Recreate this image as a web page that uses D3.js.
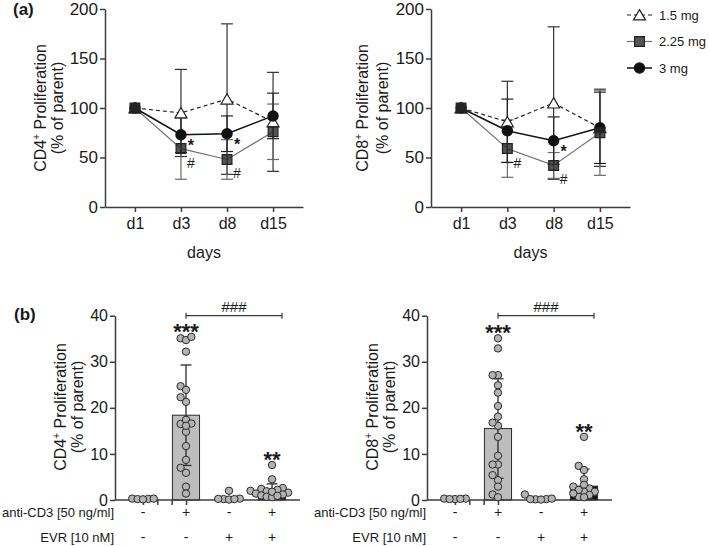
<!DOCTYPE html>
<html><head><meta charset="utf-8">
<script src="https://cdn.jsdelivr.net/npm/d3@7"></script>
<style>
body{margin:0;background:#fff}
svg{display:block}
text{font-family:"Liberation Sans",Arial,Helvetica,sans-serif;fill:#1a1a1a}
</style>
</head><body>
<svg id="c" width="709" height="546"></svg>
<script>
// ---------- DATA ----------
const days = ["d1","d3","d8","d15"];
const doses = ["1.5 mg","2.25 mg","3 mg"];
const yTicksTop = [0,50,100,150,200];
const yTicksBottom = [0,10,20,30,40];

// (a) CD4 – mean and SD per day
const cd4Mean15 = [100,95,109,86];
const cd4Sd15   = [0,44,76,50];
const cd4Mean225 = [100,59,48,76];
const cd4Sd225   = [0,31,20,28];
const cd4Mean3 = [100,73,74,92];
const cd4Sd3   = [0,18,18,23];
// (a) CD8
const cd8Mean15 = [100,86,105,80];
const cd8Sd15   = [0,41,77,39];
const cd8Mean225 = [100,59,42,75];
const cd8Sd225   = [0,29,13,43];
const cd8Mean3 = [100,77,67,80];
const cd8Sd3   = [0,32,24,36];
// significance marks: [day, symbol, dose index]
const cd4Marks = [["d3","*",2],["d3","#",1],["d8","*",2],["d8","#",1]];
const cd8Marks = [["d3","#",1],["d8","*",2],["d8","#",1]];

// (b) groups
const groups = ["ctrl","aCD3","EVR","aCD3+EVR"];
const antiCD3Signs = ["-","+","-","+"];
const evrSigns = ["-","-","+","+"];
const cd4BarMean = [0.2,18.4,0.2,1.8];
const cd4BarSd   = [0.1,10.9,0.4,1.7];
const cd8BarMean = [0.2,15.5,0.2,3.0];
const cd8BarSd   = [0.1,10.8,0.3,3.7];
const cd4Dots = [
  [0.3,0.2,0.25,0.15,0.3],
  [35.1,34.7,35.4,32.2,24.7,23.9,21.3,22.3,16.5,17.4,16.6,14.8,16.1,11.7,8.7,7.0,5.9,2.9,1.4],
  [2.0,0.3,0.2,0.1,0.25,0.2],
  [7.6,4.5,2.6,2.4,2.0,1.9,2.2,1.6,1.4,1.2,1.0,0.7,0.6,1.8,0.9]
];
const cd8Dots = [
  [0.3,0.2,0.3,0.2,0.25],
  [35.1,32.9,27.1,27.1,24.9,23.3,20.4,18.1,16.1,16.8,13.7,9.6,7.7,7.7,5.4,4.3,2.9,1.2,0.6],
  [1.2,0.2,0.15,0.1,0.3,0.2],
  [13.7,7.4,6.5,4.5,2.9,2.5,3.3,1.8,1.8,1.1,0.7,0.6,2.2,1.4]
];
const cd4Stars = [["aCD3","***"],["aCD3+EVR","**"]];
const cd8Stars = [["aCD3","***"],["aCD3+EVR","**"]];
const bracketText = "###";

// ---------- DRAWING ----------
const svg = d3.select("#c");
const AX = "#3c3c3c";

function styleAxis(g, fs){
  g.select(".domain").attr("stroke",AX).attr("stroke-width",1.5);
  g.selectAll(".tick line").attr("stroke",AX).attr("stroke-width",1.5);
  g.selectAll(".tick text").attr("fill","#1a1a1a").style("font-size",fs+"px")
    .style("font-family",'"Liberation Sans",Arial,sans-serif');
}

function yTitle(x1,x2,cy,main){
  const t = svg.append("text").attr("transform",`translate(${x1},${cy}) rotate(-90)`)
    .attr("text-anchor","middle").attr("dy","0.35em").style("font-size","16px");
  t.append("tspan").text(main);
  t.append("tspan").attr("dy",-6).style("font-size","10px").text("+");
  t.append("tspan").attr("dy",6).text(" Proliferation");
  svg.append("text").attr("transform",`translate(${x2},${cy}) rotate(-90)`)
    .attr("text-anchor","middle").attr("dy","0.35em").style("font-size","16px").text("(% of parent)");
}

const symTri = d3.symbol().type(d3.symbolTriangle).size(62);
const symSq = d3.symbol().type(d3.symbolSquare).size(95);
const symCirc = d3.symbol().type(d3.symbolCircle).size(82);
const seriesStyle = [
  {line:"#222", dash:"4,3", w:1.2, err:"#333", sym:symTri, fill:"#fff", stroke:"#222"},
  {line:"#707070", dash:null, w:1.2, err:"#6a6a6a", sym:symSq, fill:"rgba(40,40,40,0.8)", stroke:"#222"},
  {line:"#111", dash:null, w:1.5, err:"#222", sym:symCirc, fill:"#111", stroke:"#111"}
];

function linePanel(cfg){
  const x = d3.scalePoint().domain(days).range([cfg.x0,cfg.x1]).padding(0.65);
  const y = d3.scaleLinear().domain([0,200]).range([207,9]);
  const gy = svg.append("g").attr("transform",`translate(${cfg.x0},0)`)
    .call(d3.axisLeft(y).tickValues(yTicksTop).tickSize(5).tickSizeOuter(0).tickPadding(2));
  styleAxis(gy,17);
  const gx = svg.append("g").attr("transform","translate(0,207)")
    .call(d3.axisBottom(x).tickSize(5).tickSizeOuter(0).tickPadding(6));
  styleAxis(gx,16);
  svg.append("text").attr("x",(cfg.x0+cfg.x1)/2).attr("y",258).attr("text-anchor","middle")
    .style("font-size","16px").text("days");
  yTitle(cfg.t1,cfg.t2,108,cfg.title);

  const ser = cfg.series.map((s,k)=>({k, mean:s[0], sd:s[1], st:seriesStyle[k]}));
  // error bars
  ser.forEach(s=>{
    const pts = days.map((d,i)=>({d,m:s.mean[i],e:s.sd[i]})).filter(p=>p.e>0);
    const g = svg.append("g").attr("stroke",s.st.err).attr("stroke-width",1.2);
    g.selectAll(".v").data(pts).join("line").attr("x1",p=>x(p.d)).attr("x2",p=>x(p.d))
      .attr("y1",p=>y(p.m+p.e)).attr("y2",p=>y(p.m-p.e));
    g.selectAll(".t").data(pts).join("line").attr("x1",p=>x(p.d)-6).attr("x2",p=>x(p.d)+6)
      .attr("y1",p=>y(p.m+p.e)).attr("y2",p=>y(p.m+p.e));
    g.selectAll(".b").data(pts).join("line").attr("x1",p=>x(p.d)-6).attr("x2",p=>x(p.d)+6)
      .attr("y1",p=>y(p.m-p.e)).attr("y2",p=>y(p.m-p.e));
  });
  // lines
  const line = d3.line().x((v,i)=>x(days[i])).y(v=>y(v));
  ser.forEach(s=>{
    svg.append("path").attr("d",line(s.mean)).attr("fill","none").attr("stroke",s.st.line)
      .attr("stroke-width",s.st.w).attr("stroke-dasharray",s.st.dash);
  });
  // markers (order: 1.5, 3, 2.25)
  [0,2,1].forEach(k=>{
    const s = ser[k];
    svg.append("g").selectAll("path").data(s.mean).join("path")
      .attr("d",s.st.sym).attr("transform",(v,i)=>`translate(${x(days[i])},${y(v)+(k===0?1.5:0)})`)
      .attr("fill",s.st.fill).attr("stroke",s.st.stroke).attr("stroke-width",1.2);
  });
  // significance marks
  cfg.marks.forEach(([d,sym,k])=>{
    const yv = y(ser[k].mean[days.indexOf(d)]);
    svg.append("text").attr("x",x(d)+10).attr("y",sym==="*"?yv+16.5:yv+19)
      .attr("text-anchor","middle").style("font-size",sym==="*"?"16px":"14px")
      .style("font-weight",sym==="*"?"bold":"normal").text(sym);
  });
}

linePanel({x0:105,x1:303,t1:40,t2:57,title:"CD4",
  series:[[cd4Mean15,cd4Sd15],[cd4Mean225,cd4Sd225],[cd4Mean3,cd4Sd3]], marks:cd4Marks});
linePanel({x0:431,x1:630,t1:362,t2:382,title:"CD8",
  series:[[cd8Mean15,cd8Sd15],[cd8Mean225,cd8Sd225],[cd8Mean3,cd8Sd3]], marks:cd8Marks});

// legend
const legY = d3.scalePoint().domain(doses).range([15,68]);
doses.forEach((name,k)=>{
  const st = seriesStyle[k], yy = legY(name);
  svg.append("line").attr("x1",627).attr("x2",652).attr("y1",yy).attr("y2",yy)
    .attr("stroke",st.line).attr("stroke-width",st.w).attr("stroke-dasharray",st.dash);
  svg.append("path").attr("d",st.sym).attr("transform",`translate(639.5,${yy+(k===0?1.5:0)})`)
    .attr("fill",k===1?"#555":st.fill).attr("stroke",st.stroke).attr("stroke-width",1.2);
  svg.append("text").attr("x",659).attr("y",yy).attr("dy","0.35em").style("font-size","13px").text(name);
});

// panel labels
svg.append("text").attr("x",13).attr("y",15).style("font-size","17px").style("font-weight","bold").text("(a)");
svg.append("text").attr("x",14).attr("y",320).style("font-size","17px").style("font-weight","bold").text("(b)");

function swarm(vals, y, r){
  const placed = [], out = [];
  const order = vals.map((v,i)=>i).sort((a,b)=>vals[a]-vals[b]);
  const minD = 2*r*0.72, step = minD + 0.05;
  const cands = [0];
  for(let j=1;j<30;j++){cands.push(-j*step);cands.push(j*step);}
  order.forEach(i=>{
    const py = y(vals[i]);
    let off = 0;
    for(const c of cands){
      if(placed.every(p=>(p.x-c)**2+(p.y-py)**2 >= minD*minD)){off=c;break;}
    }
    placed.push({x:off,y:py});
    out[i] = {dx:off, y:py};
  });
  return out;
}

function barPanel(cfg){
  const x = d3.scaleBand().domain(groups).range([cfg.x0,cfg.x1]).paddingInner(0.37).paddingOuter(0.335);
  const y = d3.scaleLinear().domain([0,40]).range([500,315.7]);
  const bw = x.bandwidth(), cx = g=>x(g)+bw/2;
  const gy = svg.append("g").attr("transform",`translate(${cfg.x0},0)`)
    .call(d3.axisLeft(y).tickValues(yTicksBottom).tickSize(5).tickSizeOuter(0).tickPadding(2));
  styleAxis(gy,16);
  yTitle(cfg.t1,cfg.t2,407,cfg.title);
  // bars
  svg.append("g").selectAll("rect").data(groups).join("rect")
    .attr("x",g=>x(g)).attr("width",bw)
    .attr("y",(g,i)=>y(cfg.mean[i])).attr("height",(g,i)=>y(0)-y(cfg.mean[i]))
    .attr("fill",(g,i)=>i===1?"#bdbdbd":"#141414").attr("stroke","#2a2a2a").attr("stroke-width",1);
  // error bars
  const eb = svg.append("g").attr("stroke","#2a2a2a").attr("stroke-width",1.3);
  groups.forEach((g,i)=>{
    const m = cfg.mean[i], e = cfg.sd[i], lo = Math.max(0,m-e);
    eb.append("line").attr("x1",cx(g)).attr("x2",cx(g)).attr("y1",y(m+e)).attr("y2",y(lo));
    eb.append("line").attr("x1",cx(g)-5.5).attr("x2",cx(g)+5.5).attr("y1",y(m+e)).attr("y2",y(m+e));
    if(m-e>0) eb.append("line").attr("x1",cx(g)-5.5).attr("x2",cx(g)+5.5).attr("y1",y(lo)).attr("y2",y(lo));
  });
  // x axis
  const gx = svg.append("g").attr("transform","translate(0,500)")
    .call(d3.axisBottom(d3.scalePoint().domain(groups).range(groups.map(cx))).tickSize(5).tickSizeOuter(0).tickFormat(""));
  gx.select(".domain").attr("d",`M${cfg.x0},0H${cfg.x1}`);
  styleAxis(gx,14);
  // dots
  const r = 3.7;
  groups.forEach((g,i)=>{
    const pos = swarm(cfg.dots[i], y, r);
    svg.append("g").selectAll("circle").data(pos).join("circle")
      .attr("cx",p=>cx(g)+p.dx).attr("cy",p=>p.y).attr("r",r)
      .attr("fill","#b3b3b3").attr("stroke","#2a2a2a").attr("stroke-width",1);
  });
  // stars
  cfg.stars.forEach(([g,s])=>{
    const i = groups.indexOf(g);
    const top = y(d3.max(cfg.dots[i]));
    svg.append("text").attr("x",cx(g)).attr("y",top+2).attr("text-anchor","middle")
      .style("font-size","22px").style("font-weight","bold").text(s);
  });
  // bracket
  const bx1 = cx("aCD3"), bx2 = cx("aCD3+EVR")+10, by = y(40);
  const br = svg.append("g").attr("stroke","#3a3a3a").attr("stroke-width",1.2);
  br.append("line").attr("x1",bx1).attr("x2",bx2).attr("y1",by).attr("y2",by);
  br.append("line").attr("x1",bx1).attr("x2",bx1).attr("y1",by-3).attr("y2",by+3);
  br.append("line").attr("x1",bx2).attr("x2",bx2).attr("y1",by-3).attr("y2",by+3);
  svg.append("text").attr("x",(bx1+bx2)/2).attr("y",by-4).attr("text-anchor","middle")
    .style("font-size","15px").text(bracketText);
  // sign rows
  svg.append("text").attr("x",cfg.x0-1).attr("y",517).attr("text-anchor","end").style("font-size","13px").text("anti-CD3 [50 ng/ml]");
  svg.append("text").attr("x",cfg.x0-1).attr("y",542).attr("text-anchor","end").style("font-size","13px").text("EVR [10 nM]");
  groups.forEach((g,i)=>{
    svg.append("text").attr("x",cx(g)).attr("y",517).attr("text-anchor","middle").style("font-size","14px").text(antiCD3Signs[i]);
    svg.append("text").attr("x",cx(g)).attr("y",542).attr("text-anchor","middle").style("font-size","14px").text(evrSigns[i]);
  });
}

barPanel({x0:115,x1:300,t1:60,t2:77,title:"CD4",mean:cd4BarMean,sd:cd4BarSd,dots:cd4Dots,stars:cd4Stars});
barPanel({x0:427,x1:612,t1:372,t2:389,title:"CD8",mean:cd8BarMean,sd:cd8BarSd,dots:cd8Dots,stars:cd8Stars});
</script>
</body></html>
